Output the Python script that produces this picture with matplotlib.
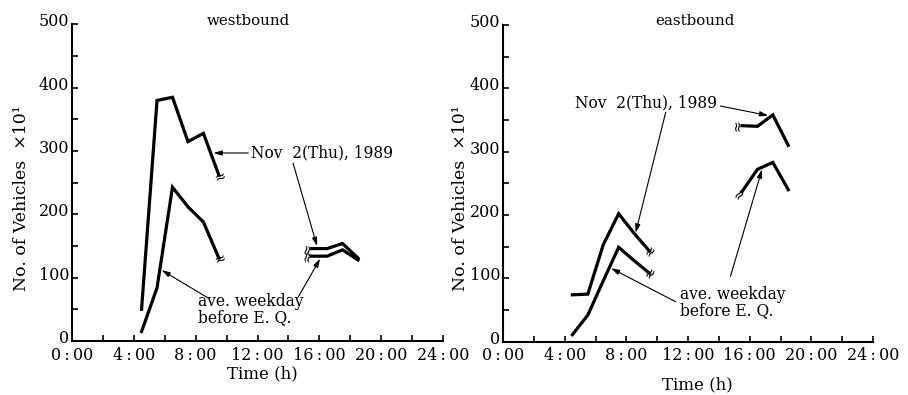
import matplotlib
matplotlib.use("Agg")
import matplotlib.pyplot as plt
import matplotlib.transforms as mtransforms
from matplotlib.ticker import MultipleLocator, FixedLocator, FixedFormatter

plt.rcParams['font.family'] = ['DejaVu Serif', 'Liberation Serif']

# Hourly traffic counts (x10 vehicles), morning and evening peaks
hours_am = [4.5, 5.5, 6.5, 7.5, 8.5, 9.5]
hours_pm = [15.5, 16.5, 17.5, 18.5]

west_nov2_am = [50, 380, 385, 315, 328, 262]
west_avg_am = [15, 84, 243, 212, 188, 131]
west_nov2_pm = [146, 146, 154, 131]
west_avg_pm = [134, 134, 144, 128]

east_nov2_am = [74, 75, 153, 202, 171, 143]
east_avg_am = [11, 42, 96, 149, 128, 108]
east_nov2_pm = [341, 340, 358, 310]
east_avg_pm = [237, 272, 283, 240]

x_ticks = [0, 4, 8, 12, 16, 20, 24]
x_labels = ["0\u2009:\u200900", "4\u2009:\u200900", "8\u2009:\u200900", "12\u2009:\u200900",
            "16\u2009:\u200900", "20\u2009:\u200900", "24\u2009:\u200900"]
y_ticks = [0, 100, 200, 300, 400, 500]

nov2_text = "Nov  2(Thu), 1989"
avg_text = "ave. weekday\nbefore E. Q."
ylabel_text = "No. of Vehicles  \u00d710\u00b9"

FS_TICK = 11.5
FS_NOTE = 11.2
FS_TITLE = 10.8
FS_LABEL = 12
LW = 2.3

fig = plt.figure(figsize=(9.08, 3.95), dpi=100)
ax_w = fig.add_axes([0.0793, 0.1367, 0.4086, 0.8013])
ax_e = fig.add_axes([0.5540, 0.1350, 0.4075, 0.8018])


def style_axes(ax):
    ax.set_xlim(0, 24)
    ax.set_ylim(0, 500)
    for s in ("top", "right"):
        ax.spines[s].set_visible(False)
    for s in ("left", "bottom"):
        ax.spines[s].set_linewidth(1.5)
        ax.spines[s].set_color("black")
    ax.xaxis.set_major_locator(FixedLocator(x_ticks))
    ax.xaxis.set_major_formatter(FixedFormatter(x_labels))
    ax.xaxis.set_minor_locator(MultipleLocator(2))
    ax.yaxis.set_major_locator(FixedLocator(y_ticks))
    ax.yaxis.set_minor_locator(MultipleLocator(50))
    ax.tick_params(which="both", direction="in", length=4.5, width=1.2,
                   labelsize=FS_TICK, pad=2, colors="black")
    ax.tick_params(axis="x", pad=4)
    # y labels sit slightly above their ticks
    shift = mtransforms.ScaledTranslation(0, 4.5 / 100, fig.dpi_scale_trans)
    for lab in ax.get_yticklabels():
        lab.set_transform(lab.get_transform() + shift)
    ax.patch.set_alpha(0)


def brk(ax, x, y, rot, dx=0, dy=0):
    ax.annotate("\u2248", xy=(x, y), xytext=(dx, dy), textcoords="offset points",
                ha="center", va="center", rotation=rot, fontsize=10,
                family="DejaVu Sans")


def arrow(ax, tail, head):
    ax.annotate("", xy=head, xytext=tail,
                arrowprops=dict(arrowstyle="-|>,head_length=0.5,head_width=0.15",
                                color="black", lw=0.8, shrinkA=0, shrinkB=0))


# westbound
style_axes(ax_w)
for h, v in ((hours_am, west_nov2_am), (hours_am, west_avg_am),
             (hours_pm, west_nov2_pm), (hours_pm, west_avg_pm)):
    ax_w.plot(h, v, color="black", lw=LW, solid_joinstyle="miter")
brk(ax_w, hours_am[-1], west_nov2_am[-1], 20, 1, -1)
brk(ax_w, hours_am[-1], west_avg_am[-1], 20, 1, -1)
brk(ax_w, hours_pm[0], west_nov2_pm[0], 80, -3, 0)
brk(ax_w, hours_pm[0], west_avg_pm[0], 80, -3, 0)
ax_w.text(11.55, 297, nov2_text, fontsize=FS_NOTE, ha="left", va="center")
arrow(ax_w, (11.4, 297), (9.15, 297))
arrow(ax_w, (14.3, 281), (15.85, 150))
ax_w.text(8.15, 76, avg_text, fontsize=FS_NOTE, ha="left", va="top", linespacing=0.95)
arrow(ax_w, (8.8, 68), (5.8, 112))
arrow(ax_w, (14.65, 70), (16.05, 130))
ax_w.text(0.475, 1.012, "westbound", transform=ax_w.transAxes, fontsize=FS_TITLE,
          ha="center", va="center")

# eastbound
style_axes(ax_e)
for h, v in ((hours_am, east_nov2_am), (hours_am, east_avg_am),
             (hours_pm, east_nov2_pm), (hours_pm, east_avg_pm)):
    ax_e.plot(h, v, color="black", lw=LW, solid_joinstyle="miter")
brk(ax_e, hours_am[-1], east_nov2_am[-1], 50, 1, 0)
brk(ax_e, hours_am[-1], east_avg_am[-1], 50, 1, 0)
brk(ax_e, hours_pm[0], east_nov2_pm[0], 90, -3, 0)
brk(ax_e, hours_pm[0], east_avg_pm[0], 50, -2, -2)
ax_e.text(13.9, 377, nov2_text, fontsize=FS_NOTE, ha="right", va="center")
arrow(ax_e, (14.1, 372), (17.2, 357))
arrow(ax_e, (10.55, 362), (8.6, 172))
ax_e.text(11.5, 88, avg_text, fontsize=FS_NOTE, ha="left", va="top", linespacing=0.95)
arrow(ax_e, (11.2, 63), (7.0, 116))
arrow(ax_e, (14.75, 103), (16.8, 272))
ax_e.text(0.52, 1.012, "eastbound", transform=ax_e.transAxes, fontsize=FS_TITLE,
          ha="center", va="center")

# axis labels
fig.text(22 / 908, 0.499, ylabel_text, rotation=90, fontsize=FS_LABEL + 0.5,
         ha="center", va="center")
fig.text(460 / 908, 0.499, ylabel_text, rotation=90, fontsize=FS_LABEL + 0.5,
         ha="center", va="center")
fig.text(262 / 908, 1 - 374 / 395, "Time (h)", fontsize=FS_LABEL,
         ha="center", va="center")
fig.text(697 / 908, 1 - 385 / 395, "Time (h)", fontsize=FS_LABEL,
         ha="center", va="center")

fig.savefig("out.png", dpi=100, facecolor="white")
